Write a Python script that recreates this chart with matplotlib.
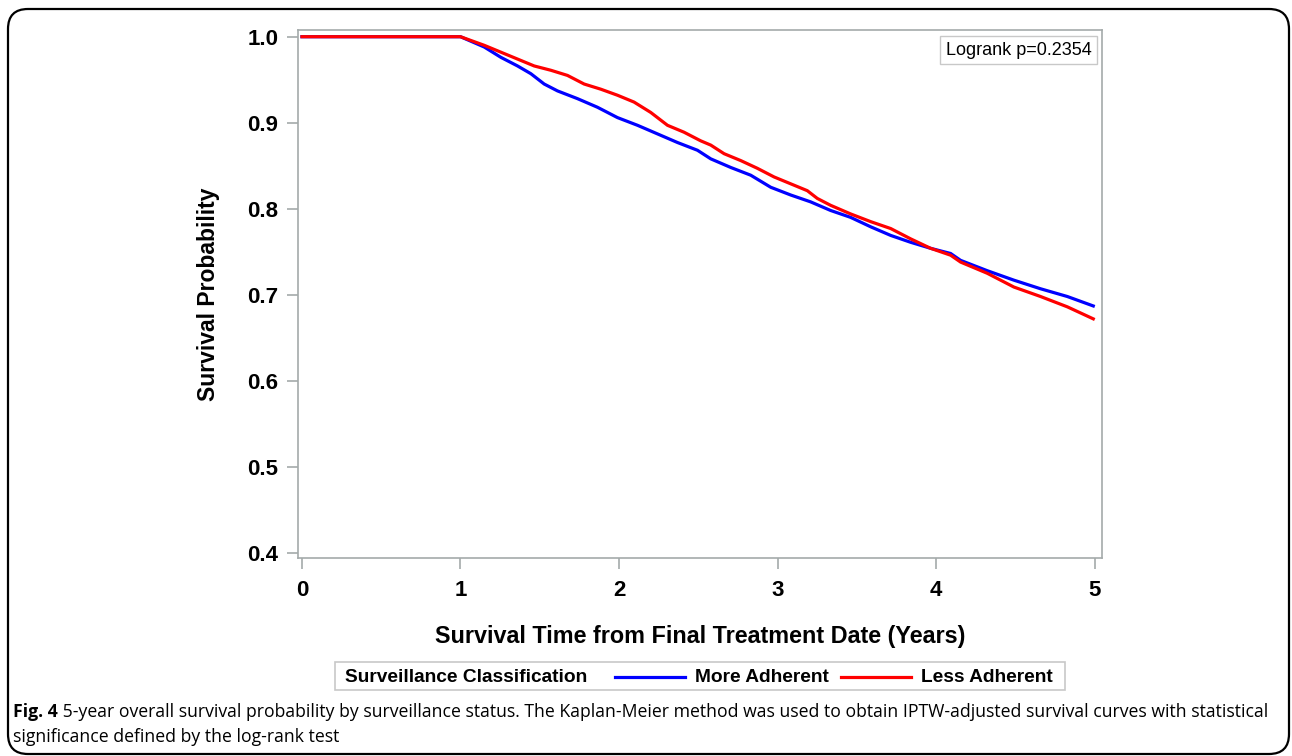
import matplotlib
matplotlib.use("Agg")
import matplotlib.pyplot as plt
from matplotlib.lines import Line2D
from matplotlib.patches import FancyBboxPatch, Rectangle

# Kaplan-Meier curves (years, survival probability)
time_more = [0.0, 1.0, 1.15, 1.255, 1.36, 1.444, 1.528, 1.612, 1.738, 1.864, 1.99,
             2.117, 2.243, 2.369, 2.495, 2.579, 2.705, 2.831, 2.957, 3.083, 3.209,
             3.335, 3.461, 3.588, 3.714, 3.84, 3.966, 4.092, 4.155, 4.323, 4.491,
             4.659, 4.828, 4.992]
surv_more = [1.0, 1.0, 0.988, 0.976, 0.966, 0.957, 0.945, 0.937, 0.928, 0.918, 0.906,
             0.897, 0.887, 0.877, 0.868, 0.858, 0.848, 0.839, 0.825, 0.816, 0.808,
             0.798, 0.790, 0.779, 0.769, 0.761, 0.754, 0.748, 0.740, 0.728, 0.717,
             0.707, 0.698, 0.687]

time_less = [0.0, 1.0, 1.15, 1.255, 1.36, 1.465, 1.57, 1.675, 1.78, 1.885, 1.99,
             2.095, 2.2, 2.306, 2.41, 2.515, 2.579, 2.663, 2.768, 2.873, 2.978,
             3.083, 3.188, 3.251, 3.335, 3.461, 3.588, 3.714, 3.84, 3.966, 4.092,
             4.155, 4.323, 4.491, 4.659, 4.828, 4.992]
surv_less = [1.0, 1.0, 0.990, 0.982, 0.974, 0.966, 0.961, 0.955, 0.945, 0.939, 0.932,
             0.924, 0.912, 0.897, 0.889, 0.879, 0.874, 0.864, 0.856, 0.847, 0.837,
             0.829, 0.821, 0.812, 0.804, 0.794, 0.785, 0.777, 0.765, 0.754, 0.746,
             0.738, 0.725, 0.709, 0.698, 0.686, 0.672]

x_ticks = [0, 1, 2, 3, 4, 5]
y_ticks = [0.4, 0.5, 0.6, 0.7, 0.8, 0.9, 1.0]
group_labels = ["More Adherent", "Less Adherent"]
group_colors = ["#0000ff", "#ff0000"]
legend_title = "Surveillance Classification"
logrank_text = "Logrank p=0.2354"
x_label = "Survival Time from Final Treatment Date (Years)"
y_label = "Survival Probability"
caption_bold = "Fig. 4"
caption_rest = (" 5-year overall survival probability by surveillance status. The Kaplan-Meier "
                "method was used to obtain IPTW-adjusted survival curves with statistical")
caption_line2 = "significance defined by the log-rank test"

W, H = 1292, 756
plt.rcParams["font.family"] = ["Liberation Sans", "DejaVu Sans"]
fig = plt.figure(figsize=(W / 100, H / 100), dpi=100)


def fx(x):
    return x / W


def fy(y):
    return 1 - y / H


# outer rounded frame (in inches so the corners stay round)
frame = FancyBboxPatch((8 / 100, (H - 754) / 100), (1289 - 8) / 100, (754 - 9) / 100,
                       boxstyle="round,pad=0,rounding_size=0.2",
                       transform=fig.dpi_scale_trans, fill=False,
                       edgecolor="black", linewidth=1.6)
fig.patches.append(frame)

ax = fig.add_axes([fx(298), fy(558), fx(1102) - fx(298), fy(30) - fy(558)])
ax.plot(time_more, surv_more, color=group_colors[0], lw=2.3, solid_joinstyle="miter")
ax.plot(time_less, surv_less, color=group_colors[1], lw=2.3, solid_joinstyle="miter")

ax.set_xlim(-0.025, 5.047)
ax.set_ylim(0.394, 1.0078)
ax.set_xticks(x_ticks)
ax.set_yticks(y_ticks)
ax.set_xticklabels([str(t) for t in x_ticks])
ax.set_yticklabels(["%.1f" % t for t in y_ticks])
for s in ax.spines.values():
    s.set_color("#a4aaaa")
    s.set_linewidth(1.2)
ax.tick_params(direction="out", length=8, width=1.2, color="#a4aaaa",
               labelsize=16, pad=6)
ax.tick_params(axis="x", pad=8)
for lab in ax.get_xticklabels() + ax.get_yticklabels():
    lab.set_fontweight("bold")
ax.set_xlabel(x_label, fontsize=16.8, fontweight="bold", labelpad=17)
ax.set_ylabel(y_label, fontsize=16.5, fontweight="bold", labelpad=20)

ax.text(0.987, 0.978, logrank_text, transform=ax.transAxes, ha="right", va="top",
        fontsize=13, bbox=dict(boxstyle="square,pad=0.3", fc="white", ec="#c8c8c8", lw=1))

# inline legend like SAS: title on the left, then the two groups
fig.patches.append(Rectangle((fx(335), fy(690)), fx(1065) - fx(335), fy(662) - fy(690),
                             transform=fig.transFigure, fill=False,
                             edgecolor="#c8c8c8", linewidth=1.2))
fig.text(fx(345), fy(677), legend_title, fontsize=13.8, fontweight="bold", va="center")
starts = [615, 841]
for lab, col, x0 in zip(group_labels, group_colors, starts):
    fig.add_artist(Line2D([fx(x0), fx(x0 + 70)], [fy(677), fy(677)],
                          transform=fig.transFigure, color=col, lw=2.3))
    fig.text(fx(x0 + 80), fy(677), lab, fontsize=13.8, fontweight="bold", va="center")

# caption: bold figure number followed by regular text on the same line
cap_font = ["Open Sans", "DejaVu Sans"]
t1 = fig.text(fx(13), fy(712), caption_bold, fontsize=12.7, fontweight="bold",
              family=cap_font, va="center")
fig.add_artist(plt.Annotation(caption_rest, xy=(1, 0.5), xycoords=t1, va="center",
                              fontsize=12.7, family=cap_font))
fig.text(fx(13), fy(737), caption_line2, fontsize=12.7, family=cap_font, va="center")

fig.savefig("out.png", dpi=100)
